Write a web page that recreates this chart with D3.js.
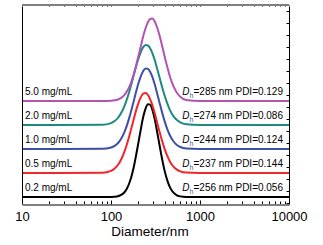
<!DOCTYPE html>
<html>
<head>
<meta charset="utf-8">
<script src="https://cdn.jsdelivr.net/npm/d3@7"></script>
<style>
  body { margin: 0; background: #fff; }
  svg { display: block; font-family: "Liberation Sans", Arial, sans-serif; }
  .frame line, .frame path { stroke: #000; }
</style>
</head>
<body>
<svg class="main" width="323" height="245"></svg>
<script>
const diameters = [10, 80, 100, 110, 120, 130, 140, 150, 160, 170, 180, 190, 200, 215, 230,
  245, 260, 275, 290, 310, 330, 350, 375, 400, 430, 460, 500, 550, 600, 700, 1000, 10000];

// intensity (a.u.) per sample, one array per concentration
const int02 = [0, 0, 0.02, 0.06, 0.17, 0.42, 0.89, 1.67, 2.81, 4.33, 6.2, 8.39, 10.61, 13.85, 16.65,
  18.47, 19.34, 19.23, 18.32, 16.22, 13.54, 10.93, 7.91, 5.49, 3.4, 1.99, 0.95, 0.36, 0.13, 0.02, 0, 0];
const int05 = [0, 0.06, 0.45, 0.94, 1.71, 2.81, 4.2, 5.83, 7.61, 9.42, 11.19, 12.84, 14.19, 15.7, 16.53,
  16.68, 16.25, 15.41, 14.25, 12.44, 10.49, 8.71, 6.7, 5.03, 3.5, 2.36, 1.38, 0.7, 0.34, 0.08, 0, 0];
const int10 = [0, 0.03, 0.3, 0.65, 1.25, 2.15, 3.32, 4.78, 6.43, 8.18, 9.97, 11.71, 13.22, 15.03, 16.26,
  16.77, 16.68, 16.09, 15.13, 13.47, 11.56, 9.75, 7.63, 5.81, 4.1, 2.8, 1.67, 0.85, 0.42, 0.1, 0, 0];
const int20 = [0, 0.05, 0.39, 0.82, 1.51, 2.49, 3.73, 5.23, 6.89, 8.61, 10.34, 11.99, 13.41, 15.1, 16.22,
  16.67, 16.57, 16.01, 15.1, 13.54, 11.72, 9.99, 7.93, 6.15, 4.44, 3.1, 1.91, 1.02, 0.53, 0.14, 0, 0];
const int50 = [0, 0, 0.05, 0.14, 0.32, 0.64, 1.16, 1.91, 2.9, 4.11, 5.55, 7.16, 8.8, 11.21, 13.47,
  15.21, 16.44, 17.08, 17.18, 16.58, 15.32, 13.75, 11.52, 9.34, 7.02, 5.06, 3.2, 1.73, 0.9, 0.23, 0, 0];

const concLabels = ["0.2 mg/mL", "0.5 mg/mL", "1.0 mg/mL", "2.0 mg/mL", "5.0 mg/mL"];
const dhValues = [256, 237, 244, 274, 285];
const pdiValues = ["0.056", "0.144", "0.124", "0.086", "0.129"];
const colors = ["#000000", "#f0262b", "#3d4fa6", "#1d8a80", "#b452b4"];
const xTicks = [10, 100, 1000, 10000];

const series = [int02, int05, int10, int20, int50];
const offsetStep = 5; // vertical stacking offset between curves

const svg = d3.select(".main");
const plot = { left: 22, right: 289, top: 5, bottom: 204 };

const x = d3.scaleLog().domain([10, 10000]).range([plot.left, plot.right]);
const y = d3.scaleLinear().domain([-1.46, 40]).range([plot.bottom, plot.top]);

const line = d3.line()
  .x(d => x(d[0]))
  .y(d => y(d[1]))
  .curve(d3.curveMonotoneX);

// curves
series.forEach((vals, i) => {
  const pts = diameters.map((d, j) => [d, vals[j] + i * offsetStep]);
  svg.append("path")
    .attr("d", line(pts))
    .attr("fill", "none")
    .attr("stroke", colors[i])
    .attr("stroke-width", 2);
});

// labels
const labels = svg.append("g").attr("font-size", 10).attr("fill", "#000");
series.forEach((vals, i) => {
  const yb = y(i * offsetStep) - 5.5;
  labels.append("text")
    .attr("x", plot.left + 3)
    .attr("y", yb)
    .text(concLabels[i]);

  const t = labels.append("text")
    .attr("x", 283)
    .attr("y", yb)
    .attr("text-anchor", "end");
  t.append("tspan").attr("font-style", "italic").text("D");
  t.append("tspan").attr("font-size", 7).attr("dy", 3).attr("fill", "#3a5fa0").text("h");
  t.append("tspan").attr("dy", -3).text(`=${dhValues[i]} nm PDI=${pdiValues[i]}`);
});

// frame
const frame = svg.append("g").attr("class", "frame").attr("fill", "none");
frame.append("line").attr("x1", plot.left).attr("x2", plot.right).attr("y1", plot.top).attr("y2", plot.top)
  .attr("stroke-width", 1.2);
frame.append("line").attr("x1", plot.left + 0.5).attr("x2", plot.left + 0.5).attr("y1", plot.top).attr("y2", plot.bottom);
frame.append("line").attr("x1", plot.right + 0.5).attr("x2", plot.right + 0.5).attr("y1", plot.top).attr("y2", plot.bottom);

// bottom axis
const minor = [];
for (let dec = 10; dec < 10000; dec *= 10) {
  for (let k = 2; k <= 9; k++) minor.push(dec * k);
}
const xAxis = d3.axisBottom(x).tickValues(xTicks).tickFormat(d3.format("d")).tickSizeInner(-4).tickSizeOuter(0);
const gx = svg.append("g").attr("transform", `translate(0,${plot.bottom + 0.5})`).call(xAxis);
gx.select(".domain").attr("stroke", "#000");
gx.selectAll(".tick line").attr("stroke", "#000");
gx.selectAll(".tick text")
  .attr("font-size", 13)
  .attr("font-family", "Liberation Sans, Arial, sans-serif")
  .attr("fill", "#000")
  .attr("dy", "0.95em")
  .attr("y", 4);

svg.append("g").selectAll("line").data(minor).join("line")
  .attr("x1", d => Math.round(x(d)) + 0.5).attr("x2", d => Math.round(x(d)) + 0.5)
  .attr("y1", plot.bottom).attr("y2", plot.bottom - 2.5)
  .attr("stroke", "#000");

// top minor ticks
svg.append("g").selectAll("line").data(minor.concat(xTicks)).join("line")
  .attr("x1", d => Math.round(x(d)) + 0.5).attr("x2", d => Math.round(x(d)) + 0.5)
  .attr("y1", plot.top).attr("y2", plot.top + 2)
  .attr("stroke", "#777");

// right axis ticks
const rightTicks = d3.range(-1.25, 40, 2.5);
svg.append("g").selectAll("line").data(rightTicks).join("line")
  .attr("x1", plot.right).attr("x2", plot.right - 2.5)
  .attr("y1", d => Math.round(y(d)) + 0.5).attr("y2", d => Math.round(y(d)) + 0.5)
  .attr("stroke", "#000");

svg.append("text")
  .attr("x", 150)
  .attr("y", 236)
  .attr("text-anchor", "middle")
  .attr("font-size", 13.5)
  .text("Diameter/nm");
</script>
</body>
</html>
